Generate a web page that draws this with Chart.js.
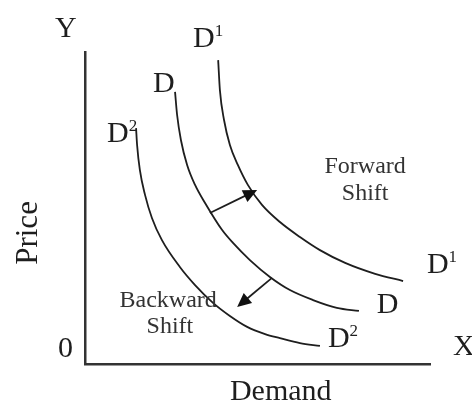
<!DOCTYPE html>
<html>
<head>
<meta charset="utf-8">
<script src="https://cdn.jsdelivr.net/npm/chart.js@4/dist/chart.umd.min.js"></script>
<style>
  body { margin: 0; background: #fff; }
  #wrap { width: 472px; height: 403px; position: relative; }
</style>
</head>
<body>
<div id="wrap"><canvas id="shiftChart"></canvas></div>
<script>
// --- Curve data (Demand on x, Price on y, arbitrary units 0..10) ---
const curveNames = ['D1', 'D', 'D2'];

const d1X = [3.86, 3.91, 4.03, 4.20, 4.43, 4.72, 5.13, 5.65, 6.23, 6.81, 7.54, 8.41, 9.22];
const d1Y = [9.74, 8.78, 7.82, 7.02, 6.38, 5.74, 5.10, 4.55, 4.07, 3.65, 3.24, 2.89, 2.66];

const dX = [2.61, 2.67, 2.78, 2.96, 3.19, 3.48, 3.97, 4.29, 4.78, 5.36, 5.94, 6.61, 7.30, 7.94];
const dY = [8.72, 7.98, 7.18, 6.38, 5.74, 5.16, 4.30, 3.88, 3.33, 2.79, 2.37, 2.05, 1.80, 1.70];

const d2X = [1.48, 1.51, 1.59, 1.74, 1.94, 2.23, 2.75, 3.19, 3.71, 4.20, 4.70, 5.22, 5.65, 6.23, 6.81];
const d2Y = [7.56, 7.02, 6.22, 5.42, 4.68, 3.97, 3.11, 2.53, 1.96, 1.54, 1.19, 0.96, 0.83, 0.67, 0.58];

// shift arrows: [fromX, fromY, toX, toY]
const forwardArrow = [3.62, 4.84, 4.99, 5.58];
const backwardArrow = [5.42, 2.76, 4.41, 1.83];

// curve labels: text, superscript, x, y (baseline)
const curveLabels = [
  ['D', '1', 3.13, 10.16],
  ['D', '', 1.97, 8.72],
  ['D', '2', 0.64, 7.12],
  ['D', '1', 9.91, 2.92],
  ['D', '', 8.46, 1.63],
  ['D', '2', 7.04, 0.54]
];

const shiftTexts = [
  ['Forward', 8.12, 6.12],
  ['Shift', 8.12, 5.26],
  ['Backward', 2.41, 1.83],
  ['Shift', 2.46, 0.99]
];

const axisTexts = [
  ['Y', -0.87, 10.48],
  ['0', -0.78, 0.22],
  ['X', 10.67, 0.29],
  ['Demand', 4.20, -1.15]
];
const priceLabel = ['Price', -1.39, 4.20];

function toPoints(xs, ys) {
  return xs.map((x, i) => ({ x: x, y: ys[i] }));
}

const ink = '#1e1e1e';
const serif = '"Liberation Serif", "Times New Roman", serif';

// --- Annotations plugin: arrows + texts ---
const annotations = {
  id: 'annotations',
  afterDatasetsDraw(chart) {
    const ctx = chart.ctx;
    const xs = chart.scales.x, ys = chart.scales.y;
    const px = v => xs.getPixelForValue(v);
    const py = v => ys.getPixelForValue(v);

    ctx.save();

    // arrows
    [forwardArrow, backwardArrow].forEach(a => {
      const x0 = px(a[0]), y0 = py(a[1]), x1 = px(a[2]), y1 = py(a[3]);
      const ang = Math.atan2(y1 - y0, x1 - x0);
      const len = 14, half = 6.5;
      ctx.strokeStyle = ink;
      ctx.lineWidth = 1.8;
      ctx.beginPath();
      ctx.moveTo(x0, y0);
      ctx.lineTo(x1 - Math.cos(ang) * len * 0.8, y1 - Math.sin(ang) * len * 0.8);
      ctx.stroke();
      ctx.fillStyle = '#111';
      ctx.beginPath();
      ctx.moveTo(x1, y1);
      ctx.lineTo(x1 - Math.cos(ang) * len + Math.sin(ang) * half, y1 - Math.sin(ang) * len - Math.cos(ang) * half);
      ctx.lineTo(x1 - Math.cos(ang) * len - Math.sin(ang) * half, y1 - Math.sin(ang) * len + Math.cos(ang) * half);
      ctx.closePath();
      ctx.fill();
    });

    ctx.fillStyle = ink;
    ctx.textBaseline = 'alphabetic';

    // curve labels
    curveLabels.forEach(l => {
      const x = px(l[2]), y = py(l[3]);
      ctx.font = '30px ' + serif;
      ctx.textAlign = 'left';
      ctx.fillText(l[0], x, y);
      if (l[1]) {
        const w = ctx.measureText(l[0]).width;
        ctx.font = '17px ' + serif;
        ctx.fillText(l[1], x + w, y - 11);
      }
    });

    // axis texts
    axisTexts.forEach(t => {
      ctx.font = '30px ' + serif;
      ctx.textAlign = 'left';
      ctx.fillText(t[0], px(t[1]), py(t[2]));
    });

    // shift texts
    ctx.fillStyle = '#333';
    shiftTexts.forEach(t => {
      ctx.font = '24px ' + serif;
      ctx.textAlign = 'center';
      ctx.fillText(t[0], px(t[1]), py(t[2]));
    });

    // rotated price label
    ctx.fillStyle = ink;
    ctx.translate(px(priceLabel[1]), py(priceLabel[2]));
    ctx.rotate(-Math.PI / 2);
    ctx.font = '31px ' + serif;
    ctx.textAlign = 'center';
    ctx.fillText(priceLabel[0], 0, 0);

    ctx.restore();
  }
};

const curveData = [toPoints(d1X, d1Y), toPoints(dX, dY), toPoints(d2X, d2Y)];

new Chart(document.getElementById('shiftChart'), {
  type: 'scatter',
  data: {
    datasets: curveNames.map((name, i) => ({
      label: name,
      data: curveData[i],
      showLine: true,
      cubicInterpolationMode: 'monotone',
      borderColor: ink,
      borderWidth: 1.8,
      pointRadius: 0,
      clip: false
    }))
  },
  options: {
    responsive: true,
    maintainAspectRatio: false,
    animation: false,
    layout: { padding: { left: 85, right: 42, top: 52, bottom: 39 } },
    plugins: { legend: { display: false }, tooltip: { enabled: false } },
    scales: {
      x: {
        type: 'linear', min: 0, max: 10,
        grid: { display: false, drawTicks: false },
        ticks: { display: false },
        border: { color: '#333', width: 2.5 }
      },
      y: {
        type: 'linear', min: 0, max: 10,
        grid: { display: false, drawTicks: false },
        ticks: { display: false },
        border: { color: '#333', width: 2.5 }
      }
    }
  },
  plugins: [annotations]
});
</script>
</body>
</html>
